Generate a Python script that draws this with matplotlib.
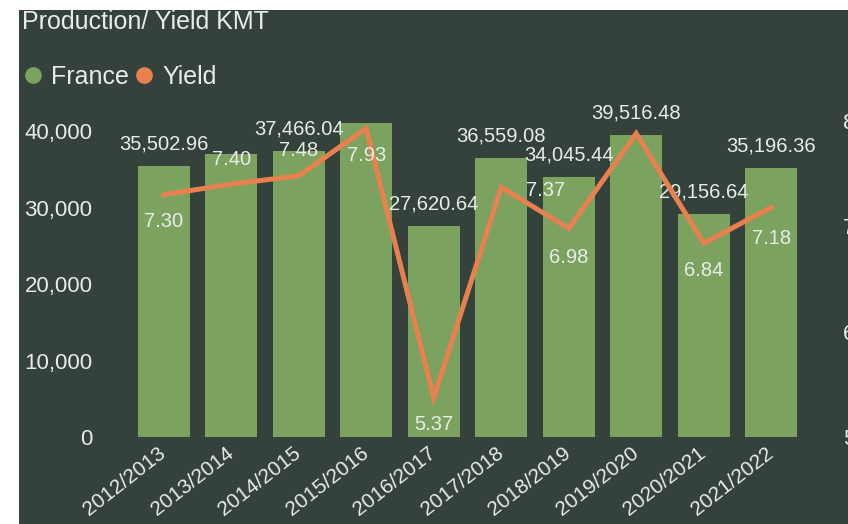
import matplotlib
matplotlib.use("Agg")
import matplotlib.pyplot as plt
from matplotlib.lines import Line2D
from matplotlib.patches import Rectangle
from matplotlib.ticker import FuncFormatter
import numpy as np

plt.rcParams["font.family"] = ["Liberation Sans", "DejaVu Sans"]

# data
seasons = ["2012/2013", "2013/2014", "2014/2015", "2015/2016", "2016/2017",
           "2017/2018", "2018/2019", "2019/2020", "2020/2021", "2021/2022"]
production = [35502.96, 37000.0, 37466.04, 41100.0, 27620.64,
              36559.08, 34045.44, 39516.48, 29156.64, 35196.36]
yields = [7.30, 7.40, 7.48, 7.93, 5.37, 7.37, 6.98, 7.88, 6.84, 7.18]

# which data labels the original shows
bar_label_shown = [True, False, True, False, True, True, True, True, True, True]
yield_label_shown = [True, True, True, True, True, True, True, False, True, True]
# label offsets in pixels (dx, dy)
yield_label_offset = [(0, -27), (0, 25), (0, 25), (0, -27), (0, -26),
                      (44, -3), (0, -29), (0, 0), (0, -27), (0, -31)]

BG = "#35423b"
GREEN = "#7ba35f"
ORANGE = "#e8804f"
TXT = "#e8ece9"

fig = plt.figure(figsize=(8.48, 5.24), dpi=100)
fig.patch.set_facecolor("white")
fig.patches.append(Rectangle((19 / 848, 0), 1 - 19 / 848, 514 / 524,
                             transform=fig.transFigure, facecolor=BG,
                             edgecolor="none", zorder=-10))

ax1 = fig.add_axes([130 / 848, 1 - 437 / 524, 675 / 848, 321 / 524])
ax1.set_facecolor("none")
ax2 = ax1.twinx()
ax2.set_facecolor("none")

x = np.arange(len(seasons))
bars = ax1.bar(x, production, width=0.77, color=GREEN, zorder=2)
ax2.plot(x, yields, color=ORANGE, linewidth=3.6, zorder=3,
         solid_joinstyle="miter")

ax1.set_xlim(-0.5, len(seasons) - 0.5)
ax1.set_ylim(0, 42000)
ax2.set_ylim(5, 8.047)

ax1.set_yticks([0, 10000, 20000, 30000, 40000])
ax1.yaxis.set_major_formatter(FuncFormatter(lambda v, p: f"{v:,.0f}"))
ax2.set_yticks([5, 6, 7, 8])

for ax in (ax1, ax2):
    for spine in ax.spines.values():
        spine.set_visible(False)

ax1.tick_params(axis="y", length=0, pad=27, labelsize=16, labelcolor=TXT)
ax2.tick_params(axis="y", length=0, pad=27.5, labelsize=16, labelcolor=TXT)
ax1.set_xticks(x)
ax1.set_xticklabels(seasons, rotation=38, ha="right", va="center",
                    rotation_mode="anchor")
ax1.tick_params(axis="x", length=0, pad=10, labelsize=15, labelcolor=TXT)

# bar value labels
for i, (v, shown) in enumerate(zip(production, bar_label_shown)):
    if shown:
        ax1.annotate(f"{v:,.2f}", (x[i], v), xytext=(0, 22),
                     textcoords="offset pixels", ha="center", va="center",
                     fontsize=14.5, color=TXT, zorder=5)

# yield labels
for i, (v, shown) in enumerate(zip(yields, yield_label_shown)):
    if shown:
        ax2.annotate(f"{v:.2f}", (x[i], v), xytext=yield_label_offset[i],
                     textcoords="offset pixels", ha="center", va="center",
                     fontsize=14.5, color=TXT, zorder=5)

fig.text(22 / 848, 1 - 22 / 524, "Production/ Yield KMT", fontsize=18,
         color=TXT, ha="left", va="center")

handles = [Line2D([], [], marker="o", linestyle="none", markersize=12,
                  markerfacecolor=GREEN, markeredgecolor="none"),
           Line2D([], [], marker="o", linestyle="none", markersize=12,
                  markerfacecolor=ORANGE, markeredgecolor="none")]
fig.legend(handles, ["France", "Yield"], loc="center left",
           bbox_to_anchor=(10 / 848, 1 - 77 / 524), ncol=2, frameon=False,
           fontsize=18, labelcolor=TXT, handletextpad=0.25,
           columnspacing=0.1, handlelength=1.0, borderaxespad=0)

fig.savefig("out.png", dpi=100, facecolor="white")
